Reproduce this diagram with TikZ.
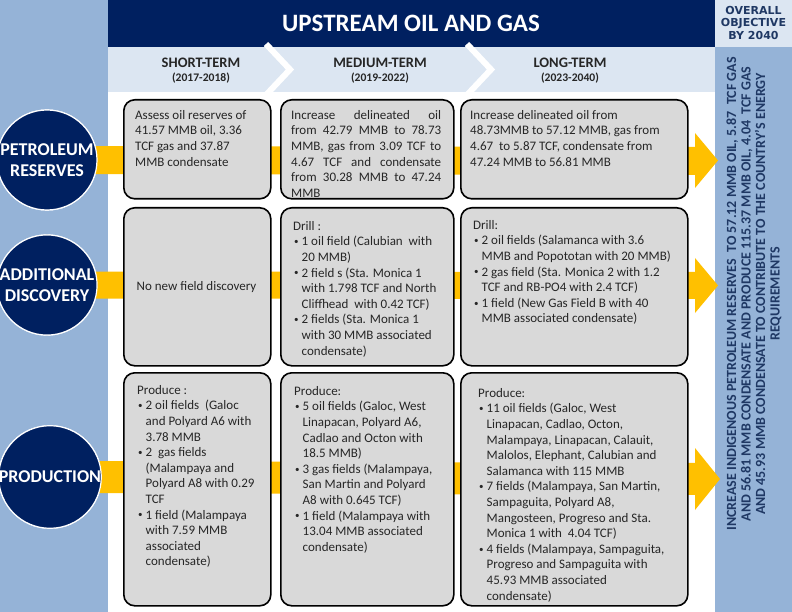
\documentclass[tikz,border=0pt]{standalone}
\usepackage{fontspec}
\setmainfont{Carlito}
\newfontfamily\objfont{DejaVu Sans}
\usetikzlibrary{shapes.geometric}
\definecolor{navy}{HTML}{002060}
\definecolor{sideblue}{HTML}{95B3D7}
\definecolor{bandblue}{HTML}{DCE6F2}
\definecolor{gold}{HTML}{FFC000}
\definecolor{boxgray}{HTML}{D9D9D9}
\definecolor{txtc}{HTML}{262626}
\definecolor{objtxt}{HTML}{1F3864}
\newcommand\jl[1]{\makebox[150pt][s]{#1}}
\newcommand\bu{\hspace*{1pt}\makebox[7.5pt][l]{\raisebox{1.2pt}{\fontsize{9}{9}\selectfont\textbullet}}}
\newcommand\ind{\hspace*{8.5pt}}
\newcommand\yrs[1]{{\fontsize{11.6}{14}\selectfont #1}}
\tikzset{
  cell/.style={draw=black, line width=1.6pt, fill=boxgray, rounded corners=11pt, anchor=north west, inner sep=0pt},
  txtn/.style={inner sep=0pt, align=left, font=\fontsize{13}{15.6}\selectfont, text=txtc, anchor=north west},
  circ/.style={circle, fill=navy, draw=white, line width=1.2pt, minimum size=100pt, inner sep=0pt, text=white, align=center, font=\bfseries\fontsize{18}{20.7}\selectfont},
  colhead/.style={align=center, inner sep=0pt, text=black!85, font=\bfseries\fontsize{14.5}{14}\selectfont},
  barA/.style={gold, line width=28pt},
  chev/.style={white, line width=6pt, miter limit=20}
}
\begin{document}
\begin{tikzpicture}[x=1pt,y=-1pt]
\useasboundingbox (0,0) rectangle (792,612);
% backgrounds
\fill[white] (0,0) rectangle (792,612);
\fill[sideblue] (0,0) rectangle (108,612);
\fill[navy] (108,0) rectangle (715,47);
\fill[bandblue] (108,47) rectangle (715,92);
\fill[bandblue] (715,0) rectangle (792,47);
\fill[sideblue] (715,47) rectangle (792,612);
\draw[chev] (266,44) -- (290,69.5) -- (266,95);
\draw[chev] (467,44) -- (491,69.5) -- (467,95);
% header texts
\node[text=white, font=\bfseries\fontsize{25}{27}\selectfont, inner sep=0pt] (title) at (411,23) {UPSTREAM OIL AND GAS};
\node[text=objtxt, align=center, inner sep=0pt, font=\objfont\bfseries\fontsize{11}{12.7}\selectfont] (obj) at (753.5,23) {OVERALL\\OBJECTIVE\\BY 2040};
\node[colhead] (hs) at (201,70.5) {SHORT-TERM\\\yrs{(2017-2018)}};
\node[colhead] (hm) at (380,70.5) {MEDIUM-TERM\\\yrs{(2019-2022)}};
\node[colhead] (hl) at (570,70.5) {LONG-TERM\\\yrs{(2023-2040)}};
% circles (placed first for bar anchoring)
\node[circ] (c1) at (47,160) {PETROLEUM\\RESERVES};
\node[circ] (c2) at (47,285) {ADDITIONAL\\DISCOVERY};
\node[circ] (c3) at (50,477) {PRODUCTION};
% yellow bars
\coordinate (h1) at (697,161);
\coordinate (h2) at (697,285.5);
\coordinate (h3) at (697,479);
\draw[barA] (c1.center) -- (h1);
\draw[barA, line width=27pt] (c2.center) -- (h2);
\draw[barA, line width=32pt] (c3.center) -- (h3);
% redraw circles on top
\node[circ] at (c1) {PETROLEUM\\RESERVES};
\node[circ] at (c2) {ADDITIONAL\\DISCOVERY};
\node[circ] at (c3) {PRODUCTION};
% arrow heads
\coordinate (tip1) at (718,160.5);
\coordinate (tip2) at (718,285.5);
\coordinate (tip3) at (720,479);
\fill[gold] (695,133) -- (tip1) -- (695,188) -- cycle;
\fill[gold] (695,258) -- (tip2) -- (695,313) -- cycle;
\fill[gold] (695,448) -- (tip3) -- (695,510) -- cycle;
% boxes
\node[cell, minimum width=147pt, minimum height=99pt] (s1) at (123,99) {};
\node[cell, minimum width=173pt, minimum height=99pt] (m1) at (280,99) {};
\node[cell, minimum width=227pt, minimum height=99pt] (l1) at (460,99) {};
\node[cell, minimum width=147pt, minimum height=158pt] (s2) at (123,207) {};
\node[cell, minimum width=173pt, minimum height=158pt] (m2) at (280,207) {};
\node[cell, minimum width=227pt, minimum height=158pt] (l2) at (460,207) {};
\node[cell, minimum width=147pt, minimum height=233pt] (s3) at (123,372) {};
\node[cell, minimum width=173pt, minimum height=233pt] (m3) at (280,372) {};
\node[cell, minimum width=227pt, minimum height=233pt] (l3) at (460,372) {};
% texts row 1
\node[txtn] (t11) at (135,110) {Assess oil reserves of\\41.57 MMB oil, 3.36\\TCF gas and 37.87\\MMB condensate};
\node[txtn] (t12) at (291,110) {\jl{Increase delineated oil}\\\jl{from 42.79 MMB to 78.73}\\\jl{MMB, gas from 3.09 TCF to}\\\jl{4.67 TCF and condensate}\\\jl{from 30.28 MMB to 47.24}\\MMB};
\node[txtn] (t13) at (470,110) {Increase delineated oil from\\48.73MMB to 57.12 MMB, gas from\\4.67~ to 5.87 TCF, condensate from\\47.24 MMB to 56.81 MMB};
% texts row 2
\node[txtn, anchor=center] (t21) at (196.5,287) {No new field discovery};
\node[txtn] (t22) at (293,221) {Drill :\\
\bu 1 oil field (Calubian~ with\\
\ind 20 MMB)\\
\bu 2 field s (Sta. Monica 1\\
\ind with 1.798 TCF and North\\
\ind Cliffhead~ with 0.42 TCF)\\
\bu 2 fields (Sta. Monica 1\\
\ind with 30 MMB associated\\
\ind condensate)};
\node[txtn] (t23) at (473,220) {Drill:\\
\bu 2 oil fields (Salamanca with 3.6\\
\ind MMB and Popototan with 20 MMB)\\
\bu 2 gas field (Sta. Monica 2 with 1.2\\
\ind TCF and RB-PO4 with 2.4 TCF)\\
\bu 1 field (New Gas Field B with 40\\
\ind MMB associated condensate)};
% texts row 3
\node[txtn] (t31) at (137,385) {Produce :\\
\bu 2 oil fields~ (Galoc\\
\ind and Polyard A6 with\\
\ind 3.78 MMB\\
\bu 2~ gas fields\\
\ind (Malampaya and\\
\ind Polyard A8 with 0.29\\
\ind TCF\\
\bu 1 field (Malampaya\\
\ind with 7.59 MMB\\
\ind associated\\
\ind condensate)};
\node[txtn] (t32) at (294,386) {Produce:\\
\bu 5 oil fields (Galoc, West\\
\ind Linapacan, Polyard A6,\\
\ind Cadlao and Octon with\\
\ind 18.5 MMB)\\
\bu 3 gas fields (Malampaya,\\
\ind San Martin and Polyard\\
\ind A8 with 0.645 TCF)\\
\bu 1 field (Malampaya with\\
\ind 13.04 MMB associated\\
\ind condensate)};
\node[txtn] (t33) at (478,388) {Produce:\\
\bu 11 oil fields (Galoc, West\\
\ind Linapacan, Cadlao, Octon,\\
\ind Malampaya, Linapacan, Calauit,\\
\ind Malolos, Elephant, Calubian and\\
\ind Salamanca with 115 MMB\\
\bu 7 fields (Malampaya, San Martin,\\
\ind Sampaguita, Polyard A8,\\
\ind Mangosteen, Progreso and Sta.\\
\ind Monica 1 with~ 4.04 TCF)\\
\bu 4 fields (Malampaya, Sampaguita,\\
\ind Progreso and Sampaguita with\\
\ind 45.93 MMB associated\\
\ind condensate)};
% overall objective text
\node[rotate=90, align=center, inner sep=0pt, text=objtxt, font=\bfseries\fontsize{14}{14.5}\selectfont] (ovt) at (754,294) {INCREASE INDIGENOUS PETROLEUM RESERVES~ TO 57.12 MMB OIL, 5.87~ TCF GAS\\AND 56.81 MMB CONDENSATE AND PRODUCE 115.37 MMB OIL, 4.04~ TCF GAS\\AND 45.93 MMB CONDENSATE TO CONTRIBUTE TO THE COUNTRY'S ENERGY\\REQUIREMENTS};
\end{tikzpicture}
\end{document}
